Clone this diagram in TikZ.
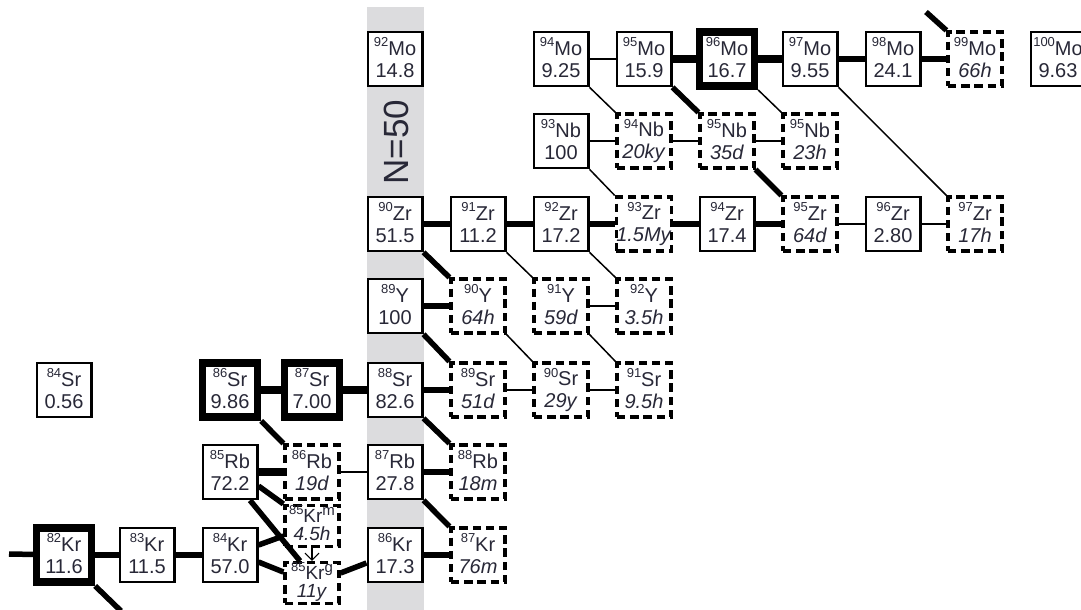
\documentclass[tikz,border=0pt]{standalone}
\usepackage{fontspec}
\setmainfont{Liberation Sans}
\usetikzlibrary{arrows.meta,calc}
\definecolor{txt}{RGB}{40,40,55}
\definecolor{band}{RGB}{220,220,222}
\newcommand{\nuc}[3]{\raisebox{4.2pt}{\fontsize{6.5}{7}\selectfont #1}#2\\#3\rule[-1.5pt]{0pt}{0pt}}
\newcommand{\nuchalf}[4]{\raisebox{4pt}{\fontsize{6.5}{7}\selectfont #1}#2\raisebox{3.6pt}{\fontsize{7.5}{8}\selectfont #3}\\\textit{#4}\rule[-3.2pt]{0pt}{0pt}}
\begin{document}
\begin{tikzpicture}[x=0.5pt,y=-0.5pt,
  base/.style={inner sep=0pt, fill=white, align=center, text=txt, font=\fontsize{10}{11}\selectfont},
  iso/.style={base, draw, line width=1.3pt, minimum width=27.2pt, minimum height=27pt},
  isoB/.style={base, draw, line width=3.75pt, minimum width=27.4pt, minimum height=27.2pt},
  un/.style={base, draw, line width=1.6pt, dash pattern=on 4.2pt off 2.4pt, minimum width=27pt, minimum height=27pt},
  unh/.style={base, draw, line width=1.6pt, dash pattern=on 4.2pt off 2.4pt, minimum width=27pt, minimum height=19pt, font=\fontsize{9.5}{8.7}\selectfont},
  thin/.style={line width=0.75pt},
  med/.style={line width=2.75pt},
  heavy/.style={line width=3.75pt}]
\useasboundingbox (0,0) rectangle (1081,610);
\fill[band] (367,7) rectangle (424,610);
\node[rotate=90, text=txt, font=\fontsize{17.5}{18}\selectfont] (n50) at (396,142) {N=50};
% Mo
\node[iso]  (Mo92)  at (395,59)  {\nuc{92}{Mo}{14.8}};
\node[iso]  (Mo94)  at (561,59)  {\nuc{94}{Mo}{9.25}};
\node[iso]  (Mo95)  at (644,59)  {\nuc{95}{Mo}{15.9}};
\node[isoB] (Mo96)  at (727,59)  {\nuc{96}{Mo}{16.7}};
\node[iso]  (Mo97)  at (810,59)  {\nuc{97}{Mo}{9.55}};
\node[iso]  (Mo98)  at (893,59)  {\nuc{98}{Mo}{24.1}};
\node[un]   (Mo99)  at (975,59)  {\nuc{99}{Mo}{\textit{66h}}};
\node[iso]  (Mo100) at (1058,59) {\nuc{100}{Mo}{9.63}};
% Nb
\node[iso] (Nb93)  at (561,141) {\nuc{93}{Nb}{100}};
\node[un]  (Nb94)  at (644,141) {\nuc{94}{Nb}{\textit{20ky}}};
\node[un]  (Nb95)  at (727,141) {\nuc{95}{Nb}{\textit{35d}}};
\node[un]  (Nb95m) at (810,141) {\nuc{95}{Nb}{\textit{23h}}};
% Zr
\node[iso] (Zr90) at (395,224) {\nuc{90}{Zr}{51.5}};
\node[iso] (Zr91) at (478,224) {\nuc{91}{Zr}{11.2}};
\node[iso] (Zr92) at (561,224) {\nuc{92}{Zr}{17.2}};
\node[un]  (Zr93) at (644,224) {\nuc{93}{Zr}{\textit{1.5My}}};
\node[iso] (Zr94) at (727,224) {\nuc{94}{Zr}{17.4}};
\node[un]  (Zr95) at (810,224) {\nuc{95}{Zr}{\textit{64d}}};
\node[iso] (Zr96) at (893,224) {\nuc{96}{Zr}{2.80}};
\node[un]  (Zr97) at (975,224) {\nuc{97}{Zr}{\textit{17h}}};
% Y
\node[iso] (Y89) at (395,306) {\nuc{89}{Y}{100}};
\node[un]  (Y90) at (478,306) {\nuc{90}{Y}{\textit{64h}}};
\node[un]  (Y91) at (561,306) {\nuc{91}{Y}{\textit{59d}}};
\node[un]  (Y92) at (644,306) {\nuc{92}{Y}{\textit{3.5h}}};
% Sr
\node[iso]  (Sr84) at (64,390)  {\nuc{84}{Sr}{0.56}};
\node[isoB] (Sr86) at (230,390) {\nuc{86}{Sr}{9.86}};
\node[isoB] (Sr87) at (312,390) {\nuc{87}{Sr}{7.00}};
\node[iso]  (Sr88) at (395,390) {\nuc{88}{Sr}{82.6}};
\node[un]   (Sr89) at (478,390) {\nuc{89}{Sr}{\textit{51d}}};
\node[un]   (Sr90) at (561,390) {\nuc{90}{Sr}{\textit{29y}}};
\node[un]   (Sr91) at (644,390) {\nuc{91}{Sr}{\textit{9.5h}}};
% Rb
\node[iso] (Rb85) at (230,472) {\nuc{85}{Rb}{72.2}};
\node[un]  (Rb86) at (312,472) {\nuc{86}{Rb}{\textit{19d}}};
\node[iso] (Rb87) at (395,472) {\nuc{87}{Rb}{27.8}};
\node[un]  (Rb88) at (478,472) {\nuc{88}{Rb}{\textit{18m}}};
% Kr
\node[isoB] (Kr82)  at (64,555)  {\nuc{82}{Kr}{11.6}};
\node[iso]  (Kr83)  at (147,555) {\nuc{83}{Kr}{11.5}};
\node[iso]  (Kr84)  at (230,555) {\nuc{84}{Kr}{57.0}};
\node[unh]  (Kr85m) at (312,526) {\nuchalf{85}{Kr}{m}{4.5h}};
\node[unh]  (Kr85g) at (312,583) {\nuchalf{85}{Kr}{g}{11y}};
\node[iso]  (Kr86)  at (395,555) {\nuc{86}{Kr}{17.3}};
\node[un]   (Kr87)  at (478,555) {\nuc{87}{Kr}{\textit{76m}}};
% free ends
\coordinate (kin) at (9,554);
\coordinate (kout) at (121,611);
\coordinate (mout) at (926,12);
% thin connectors
\draw[thin] (Mo94) -- (Mo95);
\draw[thin] (Nb93) -- (Nb94);
\draw[thin] (Nb94) -- (Nb95);
\draw[thin] (Nb95) -- (Nb95m);
\draw[thin] (Zr95) -- (Zr96);
\draw[thin] (Zr96) -- (Zr97);
\draw[thin] (Y91) -- (Y92);
\draw[thin] (Sr89) -- (Sr90);
\draw[thin] (Sr90) -- (Sr91);
\draw[thin] (Rb86) -- (Rb87);
\draw[thin] (Mo94.south east) -- (Nb94.north west);
\draw[thin] (Mo96.south east) -- (Nb95m.north west);
\draw[thin] (Mo97.south east) -- (Zr97.north west);
\draw[thin] (Nb93.south east) -- (Zr93.north west);
\draw[thin] (Zr91.south east) -- (Y91.north west);
\draw[thin] (Zr92.south east) -- (Y92.north west);
\draw[thin] (Y90.south east) -- (Sr90.north west);
\draw[thin] (Y91.south east) -- (Sr91.north west);
% medium connectors
\draw[med] (kin) -- (Kr82);
\draw[med] (Kr82) -- (Kr83);
\draw[med] (Kr83) -- (Kr84);
\draw[med] (Kr82.south east) -- (kout);
\draw[med] (Kr86) -- (Kr87);
\draw[med] (Rb87) -- (Rb88);
\draw[med] (Sr88) -- (Sr89);
\draw[med] (Y89) -- (Y90);
\draw[med] (Zr90) -- (Zr91);
\draw[med] (Zr91) -- (Zr92);
\draw[med] (Zr92) -- (Zr93);
\draw[med] (Zr93) -- (Zr94);
\draw[med] (Zr94) -- (Zr95);
\draw[med] (Mo97) -- (Mo98);
\draw[med] (Mo98) -- (Mo99);
\draw[med] (Mo99.north west) -- (mout);
\draw[med] (Sr86.south east) -- (Rb86.north west);
\draw[med] (Sr88.south east) -- (Rb88.north west);
\draw[med] (Rb87.south east) -- (Kr87.north west);
\draw[med] (Y89.south east) -- (Sr89.north west);
\draw[med] (Zr90.south east) -- (Y90.north west);
\draw[med] (Mo95.south east) -- (Nb95.north west);
\draw[med] (Nb95.south east) -- (Zr95.north west);
\draw[med] ($(Kr84.east)+(0,-10)$) -- ($(Kr85m.west)+(0,10)$);
\draw[med] ($(Kr84.east)+(0,7)$) -- ($(Kr85g.west)+(0,-11)$);
\draw[med] ($(Kr85g.east)+(0,-10)$) -- ($(Kr86.west)+(0,8)$);
\draw[med] ($(Rb85.east)+(0,14)$) -- (Kr85m.north west);
\draw[med] ($(Rb85.south)+(20,0)$) -- ($(Kr85g.north)+(-12,0)$);
% heavy connectors
\draw[heavy] (Sr86) -- (Sr87);
\draw[heavy] (Sr87) -- (Sr88);
\draw[heavy] (Rb85) -- (Rb86);
\draw[heavy] (Mo95) -- (Mo96);
\draw[heavy] (Mo96) -- (Mo97);
% isomeric transition
\draw[line width=0.6pt, -{Straight Barb[length=3.5pt,width=7pt]}] (Kr85m.south) -- (Kr85g.north);
\end{tikzpicture}
\end{document}
